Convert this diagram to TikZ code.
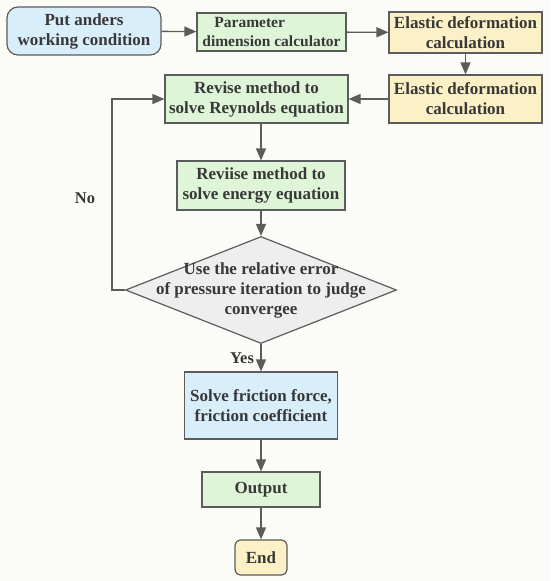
\documentclass[tikz,border=0pt]{standalone}
\usepackage{fontspec}
\setmainfont{Liberation Serif}
\usetikzlibrary{arrows.meta,shapes.geometric}
\definecolor{paper}{HTML}{FBFBF8}
\definecolor{boxline}{HTML}{5C5C5C}
\definecolor{inktext}{HTML}{383838}
\definecolor{bluefill}{HTML}{D9EEFB}
\definecolor{greenfill}{HTML}{DFF5D8}
\definecolor{yellowfill}{HTML}{FCF1C6}
\definecolor{greyfill}{HTML}{EEEEEE}
\begin{document}
\begin{tikzpicture}[x=1pt,y=-1pt,
    font=\bfseries\fontsize{17}{20}\selectfont, text=inktext,
    box/.style={draw=boxline, line width=1.2pt, align=center, inner sep=0pt},
    bluebox/.style={box, fill=bluefill},
    greenbox/.style={box, fill=greenfill},
    yellowbox/.style={box, fill=yellowfill},
    decision/.style={box, diamond, fill=greyfill},
    small/.style={font=\bfseries\fontsize{15.5}{19}\selectfont},
    flow/.style={draw=boxline, line width=1.4pt, -{Triangle[length=12pt,width=10pt]}}]
  \fill[paper] (0,0) rectangle (550,581);
  % top row
  \node[bluebox, rounded corners=11pt, minimum width=154pt, minimum height=48pt]
    (put) at (84,31) {Put anders\\working condition};
  \node[greenbox, small, align=left, minimum width=149pt, minimum height=38pt]
    (param) at (271.5,32) {\hspace*{12pt}Parameter\\dimension calculator};
  \node[yellowbox, minimum width=153pt, minimum height=41pt]
    (elast1) at (465.5,32.5) {Elastic deformation\\calculation};
  \node[yellowbox, minimum width=153pt, minimum height=48pt]
    (elast2) at (465.5,99) {Elastic deformation\\calculation};
  % main column
  \node[greenbox, minimum width=183pt, minimum height=48pt]
    (rey) at (256.5,99) {Revise method to\\solve Reynolds equation};
  \node[greenbox, minimum width=168pt, minimum height=49pt]
    (energy) at (261,185.5) {Reviise method to\\solve energy equation};
  \node[decision, minimum width=271pt, minimum height=107pt,
    label={[align=center]center:Use the relative error\\of pressure iteration to judge\\convergee}]
    (judge) at (261,290) {};
  \node[bluebox, minimum width=153pt, minimum height=67pt]
    (friction) at (261,405.5) {Solve friction force,\\friction coefficient};
  \node[greenbox, minimum width=118pt, minimum height=35pt]
    (output) at (261,489.5) {Output};
  \node[yellowbox, rounded corners=6pt, minimum width=52pt, minimum height=35pt]
    (finish) at (261,557.5) {End};
  \coordinate (loop) at (112,290);
  \node[font=\bfseries\fontsize{16.5}{20}\selectfont] (no) at (85,198) {No};
  % connectors
  \draw[flow] (put) -- (param);
  \draw[flow] (param) -- (elast1);
  \draw[flow] (elast1) -- (elast2);
  \draw[flow] (elast2) -- (rey);
  \draw[flow] (rey.south -| energy) -- (energy);
  \draw[flow] (energy) -- (judge);
  \draw[flow] (judge) -- node[font=\bfseries\fontsize{16.5}{20}\selectfont, left=3pt] (yes) {Yes} (friction);
  \draw[flow] (friction) -- (output);
  \draw[flow] (output) -- (finish);
  \draw[flow] (judge.west) -- (loop) |- (rey.west);
\end{tikzpicture}
\end{document}
